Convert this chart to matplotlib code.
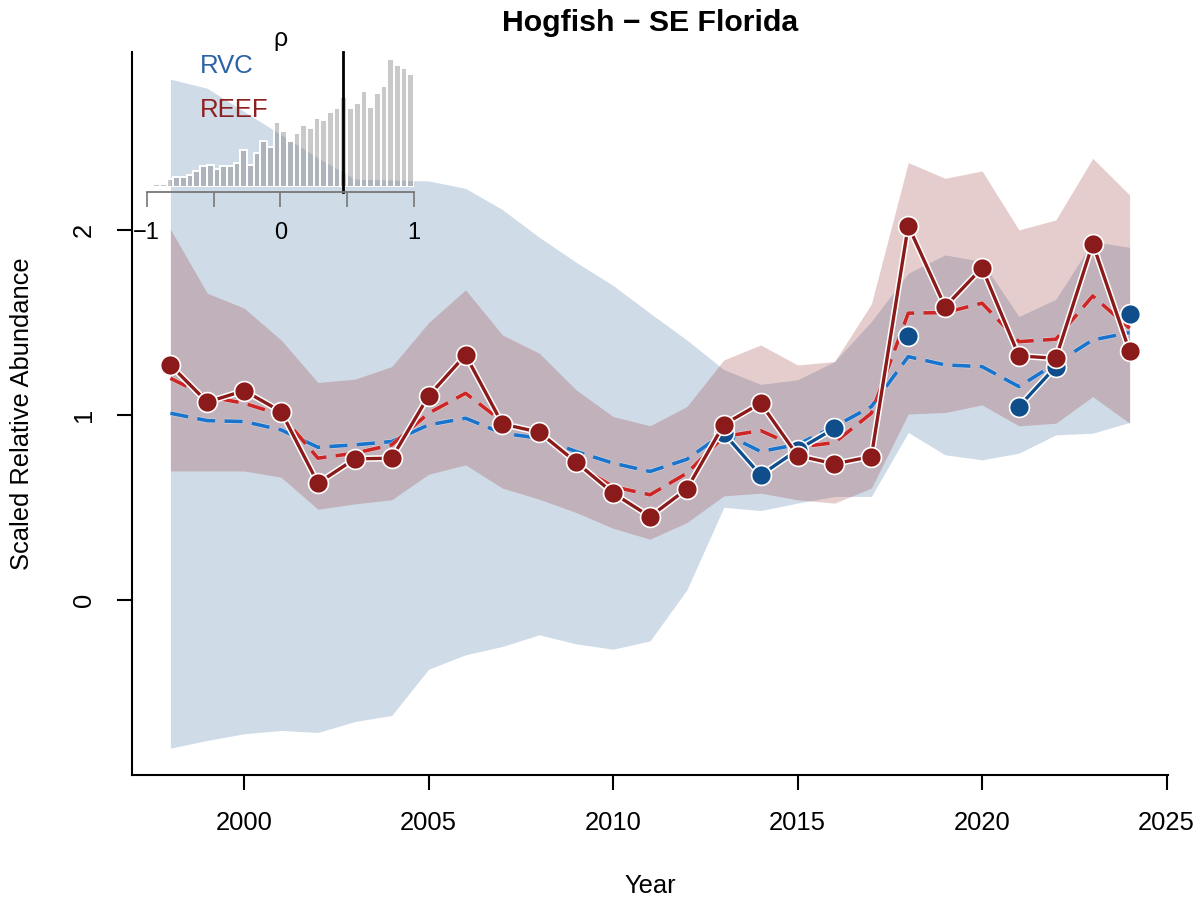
import numpy as np
import matplotlib
matplotlib.use("Agg")
import matplotlib.pyplot as plt
import matplotlib.patheffects as pe

plt.rcParams['font.family'] = ['Liberation Sans', 'DejaVu Sans']

nan = np.nan
years = np.arange(1998, 2025)

# observed indices
reef_obs = [1.270, 1.069, 1.131, 1.018, 0.631, 0.762, 0.766, 1.103, 1.324, 0.951,
            0.906, 0.744, 0.577, 0.450, 0.600, 0.948, 1.063, 0.780, 0.735, 0.775,
            2.023, 1.585, 1.795, 1.319, 1.306, 1.926, 1.344]
rvc_obs = [nan, nan, nan, nan, nan, nan, nan, nan, nan, nan,
           nan, nan, nan, nan, nan, 0.900, 0.674, 0.811, 0.927, nan,
           1.427, nan, nan, 1.045, 1.261, nan, 1.544]

# model fits
rvc_fit = [1.009, 0.969, 0.964, 0.919, 0.825, 0.838, 0.856, 0.946, 0.982, 0.901,
           0.874, 0.802, 0.739, 0.694, 0.760, 0.901, 0.802, 0.840, 0.937, 1.045,
           1.315, 1.270, 1.261, 1.153, 1.279, 1.405, 1.445]
reef_fit = [1.198, 1.099, 1.063, 1.000, 0.766, 0.793, 0.838, 1.009, 1.117, 0.964,
            0.901, 0.730, 0.612, 0.568, 0.685, 0.883, 0.915, 0.825, 0.850, 1.009,
            1.550, 1.553, 1.604, 1.396, 1.409, 1.643, 1.469]

# confidence bands
rvc_lo = [-0.802, -0.760, -0.724, -0.706, -0.717, -0.658, -0.625, -0.375, -0.297, -0.252,
          -0.189, -0.238, -0.267, -0.222, 0.054, 0.500, 0.483, 0.523, 0.559, 0.559,
          0.905, 0.784, 0.757, 0.793, 0.892, 0.901, 0.959]
rvc_hi = [2.815, 2.766, 2.640, 2.515, 2.390, 2.275, 2.270, 2.265, 2.225, 2.110,
          1.960, 1.825, 1.700, 1.550, 1.405, 1.245, 1.165, 1.190, 1.288, 1.505,
          1.766, 1.865, 1.829, 1.532, 1.625, 1.937, 1.906]
reef_lo = [0.697, 0.697, 0.697, 0.663, 0.490, 0.519, 0.541, 0.679, 0.730, 0.604,
           0.544, 0.472, 0.387, 0.328, 0.418, 0.562, 0.577, 0.541, 0.523, 0.604,
           1.005, 1.013, 1.054, 0.941, 0.955, 1.099, 0.955]
reef_hi = [2.004, 1.658, 1.577, 1.405, 1.175, 1.193, 1.261, 1.499, 1.676, 1.432,
           1.333, 1.135, 0.991, 0.941, 1.045, 1.297, 1.378, 1.270, 1.288, 1.600,
           2.364, 2.279, 2.319, 2.000, 2.054, 2.387, 2.189]

# correlation histogram (inset), bins of 0.05 from -1 to 1
rho_counts = [1.7, 3, 2.3, 8, 9.3, 9.3, 11.3, 15.7, 20.7, 22,
              17.7, 20.3, 20.7, 23.7, 36.7, 21.7, 33.7, 46, 39.3, 64.7,
              56, 45.7, 54, 61.7, 58.7, 69, 66.7, 74.3, 78.3, 90,
              78.3, 83.3, 96, 80, 94, 100.3, 127.7, 122, 119, 112.7]
rho_obs = 0.472

W, H = 1203, 901
fig = plt.figure(figsize=(W / 100, H / 100), dpi=100)
ax = fig.add_axes([132 / W, 1 - 775 / H, (1168 - 132) / W, (775 - 52) / H])

ax.fill_between(years, rvc_lo, rvc_hi, color='#104E8B', alpha=0.2, lw=0)
ax.fill_between(years, reef_lo, reef_hi, color='#8B1A1A', alpha=0.215, lw=0)

dash = (0, (5, 2.6))
thin_halo = [pe.Stroke(linewidth=3.4, foreground='white', alpha=0.5), pe.Normal()]
ax.plot(years, rvc_fit, color='#1874CD', lw=2.6, ls=dash, path_effects=thin_halo)
ax.plot(years, reef_fit, color='#CD2626', lw=2.6, ls=dash, path_effects=thin_halo)

halo = [pe.Stroke(linewidth=4.6, foreground='white'), pe.Normal()]
ax.plot(years, rvc_obs, color='#104E8B', lw=2.4, path_effects=halo)
ax.plot(years, rvc_obs, ls='none', marker='o', ms=14.3, color='#104E8B', mec='white', mew=1.2)
ax.plot(years, reef_obs, color='#8B1A1A', lw=2.4, path_effects=halo)
ax.plot(years, reef_obs, ls='none', marker='o', ms=14.3, color='#8B1A1A', mec='white', mew=1.2)

ax.set_xlim(1996.96, 2025.04)
ax.set_ylim(-0.947, 2.962)
ax.set_xticks([2000, 2005, 2010, 2015, 2020, 2025])
ax.set_yticks([0, 1, 2])
ax.tick_params(length=10.8, width=1.5, pad=15, labelsize=18.4)
ax.tick_params(axis='y', labelrotation=90)
for lab in ax.get_yticklabels():
    lab.set_va('center')
for s in ['top', 'right']:
    ax.spines[s].set_visible(False)
for s in ['left', 'bottom']:
    ax.spines[s].set_linewidth(1.5)

ax.set_title('Hogfish \u2212 SE Florida', fontsize=21.8, fontweight='bold', pad=15)
ax.set_xlabel('Year', fontsize=18.4)
ax.set_ylabel('Scaled Relative Abundance', fontsize=18.4)
ax.xaxis.set_label_coords(0.5, (775 - 886) / 723)
ax.xaxis.label.set_va('center')
ax.yaxis.set_label_coords((22 - 132) / 1036, 0.5)
ax.yaxis.label.set_va('center')

# inset histogram of rho
ins = fig.add_axes([146.7 / W, 1 - 186.7 / H, 267.3 / W, 134.7 / H])
ins.patch.set_visible(False)
edges = np.linspace(-1, 1, len(rho_counts) + 1)
ins.bar(edges[:-1], rho_counts, width=np.diff(edges), align='edge',
        color=(0.5, 0.5, 0.5, 0.42), edgecolor='white', lw=1.4)
ins.set_xlim(-1, 1)
ins.set_ylim(0, 134.7)
ins.set_yticks([])
for s in ['top', 'right', 'left']:
    ins.spines[s].set_visible(False)
ins.spines['bottom'].set_position(('outward', 3.6))
ins.spines['bottom'].set_color('#777777')
ins.spines['bottom'].set_linewidth(1.3)
ins.set_xticks([-1, -0.5, 0, 0.5, 1], ['\u22121', '', '0', '', '1'])
ins.tick_params(axis='x', length=10.8, width=1.2, color='#777777', pad=11, labelsize=17)
ins.axvline(rho_obs, ymin=-5 / 134.7, ymax=1, color='black', lw=2, clip_on=False)
ins.text(0, 1.01, '\u03c1', transform=ins.get_xaxis_transform(), ha='center', va='bottom', fontsize=18)
ins.text(0.2, 0.896, 'RVC', transform=ins.transAxes, color='#2C63A6', fontsize=18.5, va='center', ha='left')
ins.text(0.2, 0.569, 'REEF', transform=ins.transAxes, color='#8E1F1F', fontsize=18.5, va='center', ha='left')

fig.savefig('out.png', dpi=100)
